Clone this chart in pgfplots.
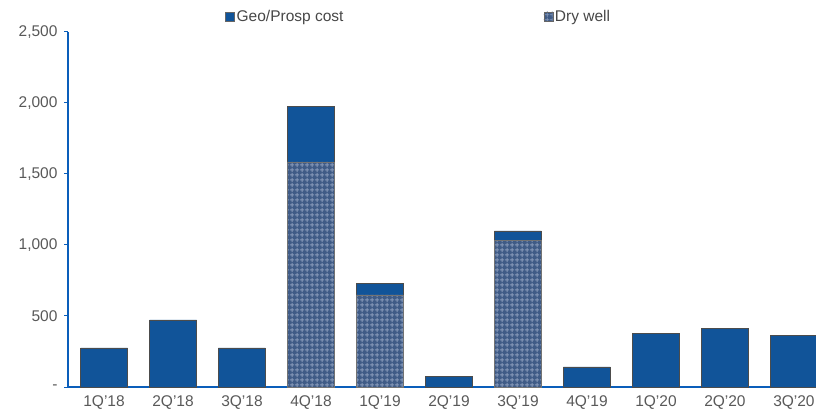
\documentclass[border=0pt]{standalone}
\usepackage{pgfplots}
\pgfplotsset{compat=1.18}
\usepackage{fontspec}
\setmainfont{Liberation Sans}
\usetikzlibrary{calc,patterns}
\definecolor{geo}{HTML}{115499}
\definecolor{dryfill}{HTML}{3F5B86}
\definecolor{drygrid}{HTML}{8598B8}
\definecolor{axblue}{HTML}{0A5EBA}
\definecolor{lab}{HTML}{595959}
\pgfdeclarepatternformonly{drygridpat}{\pgfpointorigin}{\pgfpoint{5pt}{5pt}}{\pgfpoint{5pt}{5pt}}{%
  \pgfsetlinewidth{1pt}%
  \pgfpathmoveto{\pgfpoint{2.5pt}{0pt}}\pgfpathlineto{\pgfpoint{2.5pt}{5pt}}%
  \pgfpathmoveto{\pgfpoint{0pt}{2.5pt}}\pgfpathlineto{\pgfpoint{5pt}{2.5pt}}%
  \pgfusepath{stroke}}
\begin{document}
\begin{tikzpicture}
\begin{axis}[
  scale only axis,
  width=748pt, height=355pt,
  ybar stacked,
  bar width=47pt,
  xmin=-0.522, xmax=10.32,
  ymin=0, ymax=2500,
  axis lines=left,
  axis line style={-, axblue, line width=1.4pt},
  xtick={0,...,10},
  xticklabels={1Q'18,2Q'18,3Q'18,4Q'18,1Q'19,2Q'19,3Q'19,4Q'19,1Q'20,2Q'20,3Q'20},
  x tick style={draw=none},
  ytick={0,500,1000,1500,2000,2500},
  yticklabels={-,500,{1,000},{1,500},{2,000},{2,500}},
  y tick style={axblue, line width=1pt},
  tick align=outside,
  major tick length=4pt,
  ticklabel style={font=\fontsize{15.5}{18}\selectfont, text=lab},
  yticklabel style={xshift=-3pt},
  xticklabel style={yshift=-1pt},
  reverse legend,
  legend columns=2,
  legend style={draw=none, fill=none, at={(0.21,1.0)}, anchor=south west,
    font=\fontsize{15.5}{18}\selectfont, text=lab!80!black, inner sep=0pt,
    /tikz/every even column/.append style={column sep=198pt}, yshift=7pt},
  legend image code/.code={\draw[#1, draw=black!60, line width=0.4pt] (0pt,-4.5pt) rectangle (9pt,4.5pt);},
  clip=false,
]
\addplot[fill=dryfill, draw=black!55, line width=0.5pt,
  postaction={pattern=drygridpat, pattern color=drygrid}]
  coordinates {(0,0) (1,0) (2,0) (3,1585) (4,648) (5,0) (6,1030) (7,0) (8,0) (9,0) (10,0)};
\addplot[fill=geo, draw=black!70, line width=0.5pt]
  coordinates {(0,275) (1,472) (2,275) (3,390) (4,82) (5,77) (6,69) (7,141) (8,375) (9,413) (10,361)};
\legend{Dry well, Geo/Prosp cost}
\end{axis}
\pgfresetboundingbox
\path ($(current axis.south west)+(-68pt,-25pt)$) rectangle ($(current axis.north east)+(0pt,32pt)$);
\end{tikzpicture}
\end{document}
